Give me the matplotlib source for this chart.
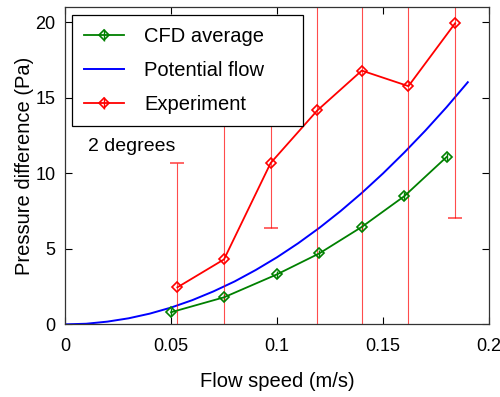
import matplotlib
matplotlib.use('Agg')
import matplotlib.pyplot as plt
from matplotlib.lines import Line2D

plt.rcParams['font.family'] = ['Liberation Sans', 'DejaVu Sans']

# CFD averaged results
cfd_speed = [0.05, 0.075, 0.1, 0.12, 0.14, 0.16, 0.18]
cfd_dp = [0.80, 1.79, 3.31, 4.70, 6.45, 8.48, 11.08]
cfd_err = [0.25, 0.25, 0.25, 0.25, 0.25, 0.25, 0.25]

# potential flow prediction
pot_speed = [0.0, 0.01, 0.02, 0.03, 0.04, 0.05, 0.06, 0.07, 0.08, 0.09,
             0.10, 0.11, 0.12, 0.13, 0.14, 0.15, 0.16, 0.17, 0.18, 0.19]
pot_dp = [0.0, 0.04, 0.18, 0.40, 0.71, 1.11, 1.60, 2.18, 2.84, 3.60,
          4.44, 5.37, 6.39, 7.50, 8.70, 9.99, 11.37, 12.83, 14.38, 16.03]

# measurements
exp_speed = [0.053, 0.075, 0.097, 0.119, 0.140, 0.162, 0.184]
exp_dp = [2.45, 4.30, 10.68, 14.16, 16.80, 15.77, 19.93]
exp_err = [8.2, 12.0, 4.33, 15.0, 18.0, 17.0, 12.9]

green = '#008000'
red = '#ff0000'

fig = plt.figure(figsize=(5.0, 3.97), dpi=100)
ax = fig.add_axes([0.13, 0.183, 0.848, 0.799])

ax.errorbar(cfd_speed, cfd_dp, yerr=cfd_err, color=green, marker='D',
            markersize=5.5, markerfacecolor='none', markeredgewidth=1.2,
            linewidth=1.3, elinewidth=1.0, capsize=0)
ax.plot(pot_speed, pot_dp, color='#0000ff', linewidth=1.4)
ax.errorbar(exp_speed, exp_dp, yerr=exp_err, color=red, marker='D',
            markersize=5.5, markerfacecolor='none', markeredgewidth=1.2,
            linewidth=1.3, elinewidth=0.8, ecolor=(1, 0, 0, 0.7),
            capsize=5, capthick=0.8)

ax.text(0.0108, 11.75, '2 degrees', fontsize=14, va='center', ha='left')

ax.set_xlim(0, 0.2)
ax.set_ylim(0, 21)
ax.set_xticks([0, 0.05, 0.1, 0.15, 0.2])
ax.set_xticklabels(['0', '0.05', '0.1', '0.15', '0.2'])
ax.set_yticks([0, 5, 10, 15, 20])
ax.tick_params(direction='in', length=5, width=0.8, top=True, right=True,
               labelsize=13)
ax.tick_params(axis='x', pad=10)
ax.tick_params(axis='y', pad=7)
for s in ax.spines.values():
    s.set_color('#333333')
    s.set_linewidth(0.9)

ax.set_xlabel('Flow speed (m/s)', fontsize=14.5, labelpad=12)
ax.set_ylabel('Pressure difference (Pa)', fontsize=14.5, labelpad=1)

# legend entries: line with diamond and a short vertical bar through it
h_cfd = (Line2D([], [], color=green, lw=1.3, marker='D', ms=5, mfc='none', mew=1.2),
         Line2D([], [], color=green, lw=0, marker='|', ms=8, mew=1.0))
h_pot = Line2D([], [], color='#0000ff', lw=1.4)
h_exp = (Line2D([], [], color=red, lw=1.3, marker='D', ms=5, mfc='none', mew=1.2),
         Line2D([], [], color=red, lw=0, marker='|', ms=8, mew=1.0))

leg = ax.legend([h_cfd, h_pot, h_exp], ['CFD average', 'Potential flow', 'Experiment'],
                loc='upper left', bbox_to_anchor=(0.0158, 0.6235, 0.5463, 0.3522),
                mode='expand', fontsize=14.5, frameon=True, fancybox=False,
                edgecolor='black', framealpha=1, borderaxespad=0,
                handlelength=2.0, handletextpad=1.0, labelspacing=0.75,
                borderpad=0.6)
leg.get_frame().set_linewidth(0.9)

fig.savefig('out.png', dpi=100)
